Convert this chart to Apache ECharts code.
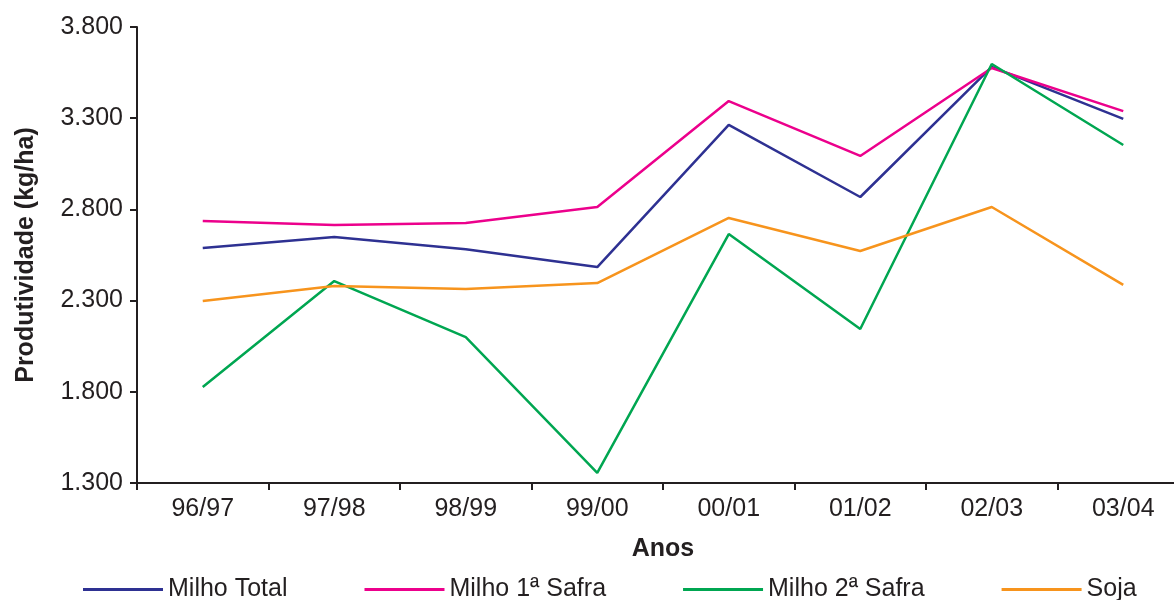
<!DOCTYPE html>
<html>
<head>
<meta charset="utf-8">
<script src="https://cdn.jsdelivr.net/npm/echarts@6/dist/echarts.min.js"></script>
<style>
  html, body { margin: 0; padding: 0; background: #fff; }
  #chart { width: 1174px; height: 600px; }
</style>
</head>
<body>
<div id="chart"></div>
<script>
// dados
var anos = ['96/97', '97/98', '98/99', '99/00', '00/01', '01/02', '02/03', '03/04'];
var milhoTotal = [2588, 2649, 2582, 2484, 3263, 2868, 3581, 3296];
var milho1Safra = [2736, 2714, 2725, 2813, 3394, 3093, 3575, 3339];
var milho2Safra = [1826, 2407, 2100, 1355, 2665, 2144, 3597, 3153];
var soja = [2298, 2380, 2364, 2396, 2753, 2572, 2813, 2386];
var yTicks = { min: 1300, max: 3800, step: 500 };

var fonte = "'Liberation Sans', Arial, Helvetica, sans-serif";
var corTexto = '#231F20';

var fmtMil = function (v) {
  return String(v).replace(/\B(?=(\d{3})+(?!\d))/g, '.');
};

var linha = function (nome, dados, cor) {
  return {
    name: nome,
    type: 'line',
    data: dados,
    symbol: 'none',
    lineStyle: { color: cor, width: 2.5 },
    itemStyle: { color: cor }
  };
};

var chart = echarts.init(document.getElementById('chart'));

var option = {
  animation: false,
  textStyle: { fontFamily: fonte, color: corTexto },
  // o eixo x continua além da borda direita, como no original
  grid: { left: 137, top: 27, right: -15, bottom: 117, containLabel: false, outerBoundsMode: 'none' },
  legend: {
    left: 78,
    top: 572,
    itemGap: 77,
    itemWidth: 80,
    itemHeight: 3,
    icon: 'rect',
    textStyle: { fontFamily: fonte, fontSize: 25, color: corTexto },
    data: ['Milho Total', 'Milho 1ª Safra', 'Milho 2ª Safra', 'Soja']
  },
  xAxis: {
    type: 'category',
    data: anos,
    boundaryGap: true,
    name: 'Anos',
    nameLocation: 'middle',
    nameGap: 54,
    nameTextStyle: { fontFamily: fonte, fontSize: 25, fontWeight: 'bold', color: corTexto },
    axisLine: { lineStyle: { color: corTexto, width: 2 } },
    axisTick: { show: true, length: 7, inside: false, lineStyle: { color: corTexto, width: 2 } },
    axisLabel: { fontFamily: fonte, fontSize: 25, color: corTexto, margin: 14 }
  },
  yAxis: {
    type: 'value',
    min: yTicks.min,
    max: yTicks.max,
    interval: yTicks.step,
    name: 'Produtividade (kg/ha)',
    nameLocation: 'middle',
    nameGap: 98,
    nameTextStyle: { fontFamily: fonte, fontSize: 25, fontWeight: 'bold', color: corTexto },
    splitLine: { show: false },
    axisLine: { show: true, lineStyle: { color: corTexto, width: 2 } },
    axisTick: { show: true, length: 7, lineStyle: { color: corTexto, width: 2 } },
    axisLabel: { fontFamily: fonte, fontSize: 25, color: corTexto, margin: 14, formatter: fmtMil }
  },
  series: [
    linha('Milho Total', milhoTotal, '#2E3192'),
    linha('Milho 1ª Safra', milho1Safra, '#EC008C'),
    linha('Milho 2ª Safra', milho2Safra, '#00A651'),
    linha('Soja', soja, '#F7941D')
  ]
};

chart.setOption(option);
</script>
</body>
</html>
